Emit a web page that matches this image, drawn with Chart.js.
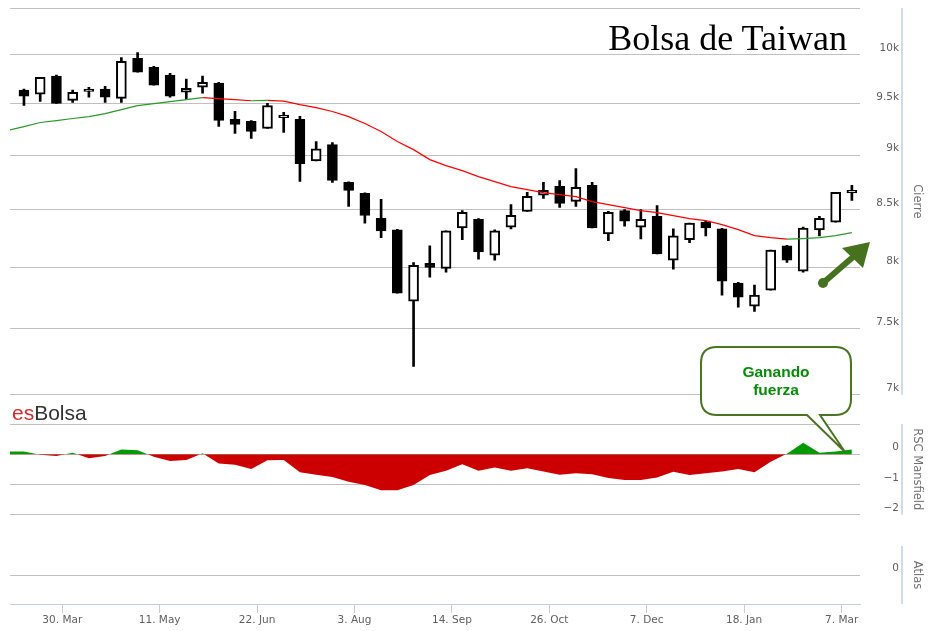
<!DOCTYPE html>
<html>
<head>
<meta charset="utf-8">
<script src="https://cdn.jsdelivr.net/npm/chart.js@4.4.0/dist/chart.umd.min.js"></script>
<style>
  body { margin: 0; background: #fff; width: 931px; height: 631px; position: relative; overflow: hidden; }
  .box { position: absolute; left: 0; width: 931px; }
  #priceBox { top: 0; height: 401px; }
  #rscBox { top: 400px; height: 121px; }
  #atlasBox { top: 520px; height: 111px; }
  #title { position: absolute; right: 84px; top: 20px; font: 36px/36px "Liberation Serif", serif; color: #000; white-space: nowrap; }
  #brand { position: absolute; left: 12px; top: 402px; font: 21px/21px "Liberation Sans", Arial, sans-serif; color: #333; }
  #brand span { color: #d42a2a; }
  #callText { position: absolute; left: 701px; top: 363px; width: 150px; text-align: center;
    font: bold 15.5px/18px "Liberation Sans", Arial, sans-serif; color: #078a07; }
  svg { position: absolute; left: 0; top: 0; }
</style>
</head>
<body>
<div class="box" id="priceBox"><canvas id="priceChart"></canvas></div>
<div class="box" id="rscBox"><canvas id="rscChart"></canvas></div>
<div class="box" id="atlasBox"><canvas id="atlasChart"></canvas></div>

<svg width="931" height="631">
  <path d="M717 347 H835 Q851 347 851 363 V399 Q851 415 835 415 H820 L845 452 L807 415 H717 Q701 415 701 399 V363 Q701 347 717 347 Z"
        fill="#fff" stroke="#4a7422" stroke-width="2"/>
  <line x1="823" y1="283" x2="853" y2="257" stroke="#467220" stroke-width="6"/>
  <circle cx="823" cy="283" r="5" fill="#467220"/>
  <polygon points="870,242 842,248 863,268" fill="#467220"/>
</svg>

<div id="title">Bolsa de Taiwan</div>
<div id="brand"><span>es</span>Bolsa</div>
<div id="callText">Ganando<br>fuerza</div>

<script>
  // weekly candles, one per trading week
  var opens  = [9633, 9592, 9776, 9531, 9620, 9643, 9551, 9959, 9867, 9786, 9612, 9663, 9704, 9342, 9323, 9254, 9360, 9342, 8945, 9098,
                8745, 8645, 8423, 8320, 7721, 8033, 7992, 8337, 8414, 8103, 8345, 8483, 8628, 8709, 8573, 8718, 8286, 8491, 8345, 8440,
                8060, 8235, 8388, 8329, 7869, 7680, 7811, 8182, 7967, 8320, 8388, 8650];
  var highs  = [9643, 9765, 9786, 9633, 9663, 9673, 9969, 10020, 9877, 9806, 9745, 9776, 9714, 9422, 9330, 9500, 9412, 9372, 9127, 9117,
                8750, 8650, 8591, 8325, 8041, 8182, 8312, 8491, 8420, 8320, 8545, 8655, 8745, 8763, 8873, 8745, 8483, 8500, 8500, 8536,
                8329, 8380, 8395, 8335, 7875, 7852, 8146, 8186, 8345, 8440, 8655, 8718];
  var lows   = [9480, 9520, 9500, 9510, 9562, 9510, 9510, 9816, 9684, 9562, 9541, 9602, 9274, 9206, 9157, 9254, 9216, 8754, 8945, 8745,
                8527, 8380, 8252, 7787, 7211, 7918, 7959, 8235, 8069, 8060, 8330, 8483, 8600, 8518, 8527, 8337, 8226, 8354, 8243, 8113,
                7984, 8209, 8269, 7770, 7672, 7639, 7811, 8041, 7959, 8269, 8388, 8582];
  var closes = [9572, 9765, 9500, 9612, 9645, 9562, 9928, 9816, 9684, 9572, 9653, 9714, 9333, 9293, 9225, 9480, 9385, 8918, 9059, 8763,
                8673, 8448, 8312, 7787, 8016, 8000, 8312, 8474, 8130, 8312, 8448, 8619, 8673, 8555, 8700, 8337, 8474, 8397, 8414, 8113,
                8269, 8380, 8337, 7885, 7754, 7770, 8146, 8060, 8337, 8423, 8655, 8672];

  // moving average and RSC Mansfield, starting one week before the first candle
  var movingAvg = [9234, 9272, 9312, 9331, 9351, 9370, 9400, 9439, 9479, 9499, 9519, 9539, 9559, 9549, 9539, 9527, 9530, 9524, 9489, 9459,
                   9420, 9370, 9302, 9224, 9128, 9051, 8957, 8901, 8854, 8799, 8753, 8707, 8680, 8652, 8634, 8616, 8571, 8544, 8517, 8490,
                   8473, 8446, 8419, 8402, 8367, 8323, 8271, 8253, 8240, 8245, 8253, 8271, 8297];
  var rscMansfield = [0.09, 0.09, -0.02, -0.06, 0.05, -0.13, -0.06, 0.16, 0.13, -0.08, -0.22, -0.19, 0.03, -0.31, -0.35, -0.49, -0.20, -0.19,
                      -0.60, -0.68, -0.75, -0.91, -1.02, -1.19, -1.19, -1.02, -0.69, -0.55, -0.33, -0.55, -0.44, -0.55, -0.46, -0.57, -0.68,
                      -0.63, -0.66, -0.79, -0.85, -0.85, -0.77, -0.58, -0.69, -0.63, -0.57, -0.49, -0.60, -0.25, 0.02, 0.38, 0.05, 0.09, 0.16];

  var priceTicks = [7000, 7500, 8000, 8500, 9000, 9500, 10000, 10500];
  var rscTicks = [-2, -1, 0, 1];
  var dateLabels = ['30. Mar', '11. May', '22. Jun', '3. Aug', '14. Sep', '26. Oct', '7. Dec', '18. Jan', '7. Mar'];
  var dateWeeks = [2.36, 8.36, 14.36, 20.36, 26.36, 32.36, 38.36, 44.36, 50.37];

  Chart.defaults.font.family = '"DejaVu Sans", sans-serif';
  Chart.defaults.font.size = 10.5;
  Chart.defaults.color = '#606060';
  Chart.defaults.animation = false;

  var xMin = -0.86, xMax = 51.5;
  var gridColor = '#C0C0C0';

  // axis line sits to the right of the tick labels
  var axisLine = {
    id: 'axisLine',
    afterDraw: function(chart) {
      var a = chart.chartArea, ctx = chart.ctx;
      ctx.save();
      ctx.strokeStyle = '#C0D0E0';
      ctx.lineWidth = 1.5;
      ctx.beginPath();
      ctx.moveTo(a.right + 42, a.top);
      ctx.lineTo(a.right + 42, a.bottom);
      ctx.stroke();
      ctx.restore();
    }
  };

  function hiddenX() {
    return { type: 'linear', min: xMin, max: xMax, offset: false, display: false };
  }

  function rightAxis(title) {
    return {
      position: 'right',
      border: { display: false },
      grid: { color: gridColor, drawTicks: false },
      ticks: { padding: 0, crossAlign: 'far', labelOffset: -6.5 },
      title: { display: true, text: title, color: '#707070', font: { size: 11.5 }, padding: { top: -25, bottom: 0 } },
      afterFit: function(s) { s.width = 39; }
    };
  }

  var pad = { left: 10, right: 32 };

  // price panel
  var bodies = [], wicks = [], bodyColors = [], maPoints = [], rscPoints = [];
  for (var i = 0; i < opens.length; i++) {
    bodies.push({ x: i, y: [opens[i], closes[i]] });
    wicks.push({ x: i, y: [lows[i], highs[i]] });
    bodyColors.push(closes[i] >= opens[i] ? '#ffffff' : '#000000');
  }
  for (var j = 0; j < movingAvg.length; j++) {
    maPoints.push({ x: j - 1, y: movingAvg[j] });
    rscPoints.push({ x: j - 1, y: rscMansfield[j] });
  }

  var priceY = rightAxis('Cierre');
  priceY.type = 'logarithmic';
  priceY.min = 7000;
  priceY.max = 10500;
  priceY.afterBuildTicks = function(s) { s.ticks = priceTicks.map(function(v) { return { value: v }; }); };
  priceY.ticks.callback = function(v) { return v >= 10500 ? '' : (v / 1000) + 'k'; };

  new Chart(document.getElementById('priceChart'), {
    type: 'bar',
    data: {
      datasets: [
        { label: 'Cuerpo', data: bodies, backgroundColor: bodyColors, borderColor: '#000', borderWidth: 2,
          borderSkipped: false, barThickness: 10, grouped: false, order: 1 },
        { label: 'Mecha', data: wicks, backgroundColor: '#000', borderWidth: 0,
          barThickness: 2, grouped: false, order: 2 },
        { type: 'line', label: 'Media', data: maPoints, borderWidth: 1.2, pointRadius: 0, order: 0,
          borderColor: '#ff0000',
          segment: { borderColor: function(c) { return c.p1.parsed.y >= c.p0.parsed.y ? '#2a9a2a' : '#ff0000'; } } }
      ]
    },
    options: {
      responsive: true, maintainAspectRatio: false,
      layout: { padding: { top: 8, bottom: 0, left: pad.left, right: pad.right } },
      plugins: { legend: { display: false }, tooltip: { enabled: false } },
      scales: { x: hiddenX(), y: priceY }
    },
    plugins: [axisLine]
  });

  // RSC Mansfield panel
  var rscY = rightAxis('RSC Mansfield');
  rscY.min = -2;
  rscY.max = 1;
  rscY.afterBuildTicks = function(s) { s.ticks = rscTicks.map(function(v) { return { value: v }; }); };
  rscY.ticks.callback = function(v) { return v >= 1 ? '' : (v < 0 ? '\u2212' + Math.abs(v) : String(v)); };

  new Chart(document.getElementById('rscChart'), {
    type: 'line',
    data: {
      datasets: [{
        label: 'RSC Mansfield', data: rscPoints, borderWidth: 0, borderColor: 'rgba(0,0,0,0)', pointRadius: 0,
        fill: { target: { value: 0 }, above: '#009a00', below: '#cc0000' }
      }]
    },
    options: {
      responsive: true, maintainAspectRatio: false,
      layout: { padding: { top: 24, bottom: 0, left: pad.left, right: pad.right } },
      plugins: { legend: { display: false }, tooltip: { enabled: false } },
      scales: { x: hiddenX(), y: rscY }
    },
    plugins: [axisLine]
  });

  // Atlas panel with the date axis
  var atlasY = rightAxis('Atlas');
  atlasY.min = -1;
  atlasY.max = 1;
  atlasY.afterBuildTicks = function(s) { s.ticks = [{ value: 0 }]; };

  new Chart(document.getElementById('atlasChart'), {
    type: 'line',
    data: { datasets: [{ label: 'Atlas', data: [] }] },
    options: {
      responsive: true, maintainAspectRatio: false,
      layout: { padding: { top: 26, bottom: 0, left: pad.left, right: pad.right } },
      plugins: { legend: { display: false }, tooltip: { enabled: false } },
      scales: {
        x: {
          type: 'linear', min: xMin, max: xMax, offset: false,
          border: { display: true, color: '#C0D0E0' },
          grid: { drawOnChartArea: false, drawTicks: true, tickLength: 9, color: '#C0D0E0' },
          ticks: { padding: 1, maxRotation: 0, autoSkip: false,
                   callback: function(v, idx) { return dateLabels[idx]; } },
          afterBuildTicks: function(s) { s.ticks = dateWeeks.map(function(v) { return { value: v }; }); },
          afterFit: function(s) { s.height = 27; }
        },
        y: atlasY
      }
    },
    plugins: [axisLine]
  });
</script>
</body>
</html>
